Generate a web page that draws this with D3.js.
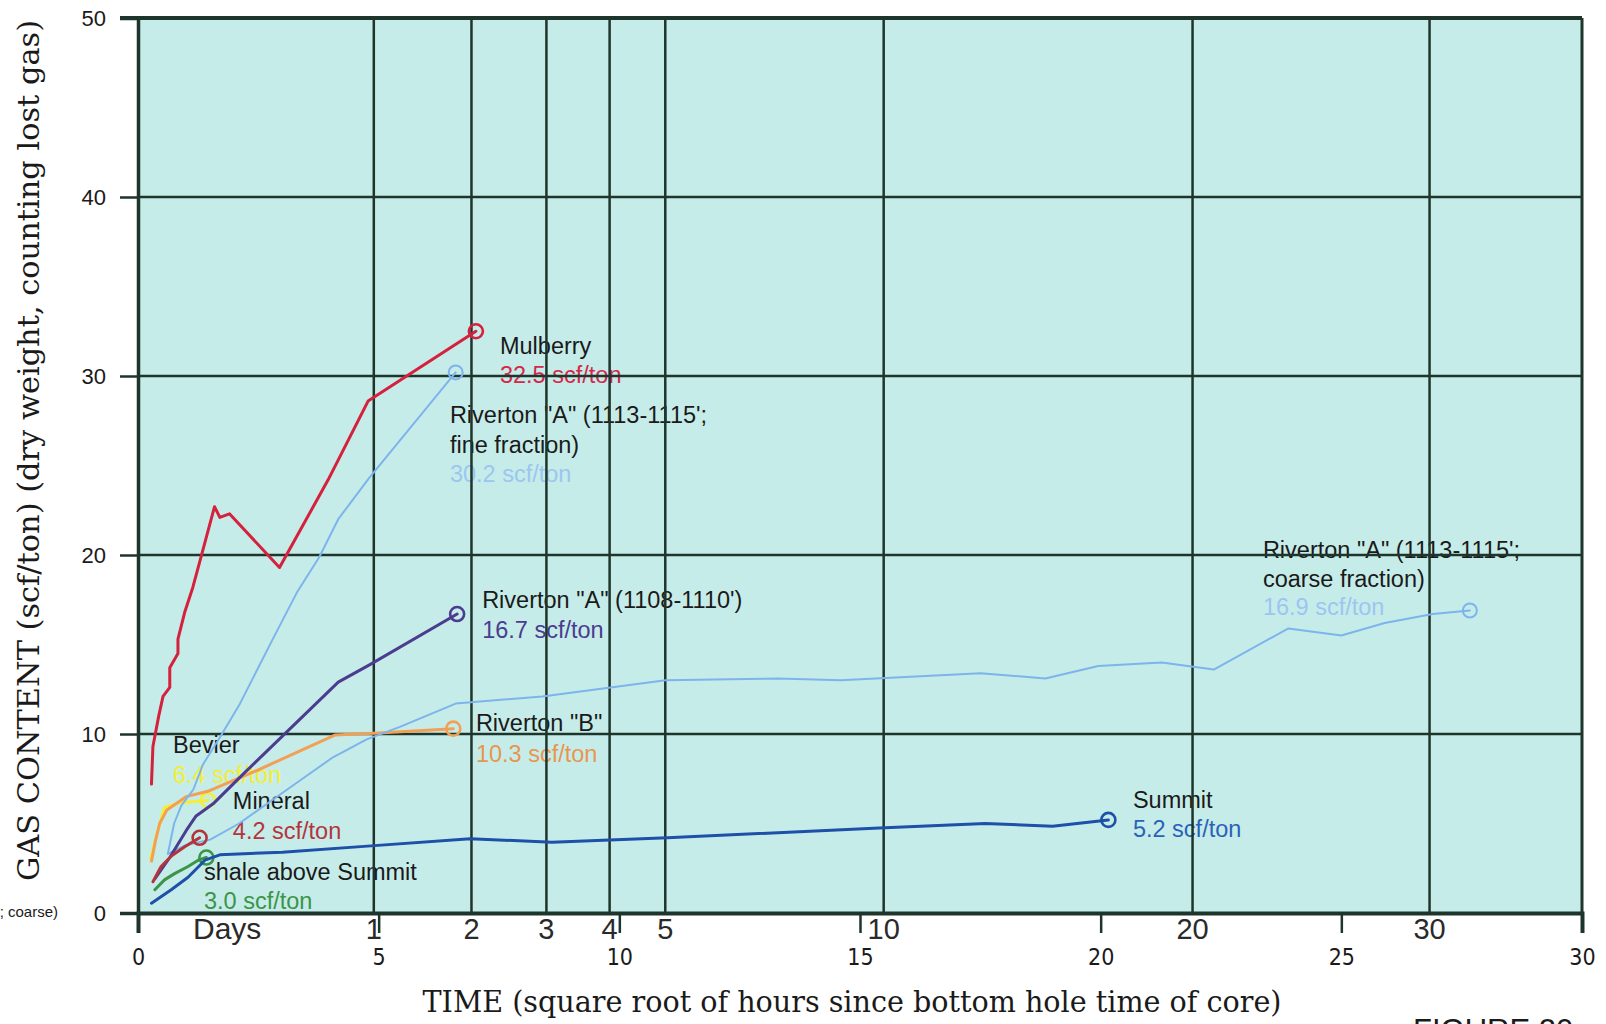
<!DOCTYPE html>
<html><head><meta charset="utf-8">
<script src="https://cdn.jsdelivr.net/npm/d3@7"></script>
<style>body{margin:0;background:#fff} svg{display:block}</style>
</head><body>
<svg id="c" width="1606" height="1024"></svg>
<script>
// ---- data ----
const yTicks = [0, 10, 20, 30, 40, 50];
const xTicks = [0, 5, 10, 15, 20, 25, 30];
const dayTicks = [1, 2, 3, 4, 5, 10, 20, 30];   // days; placed at sqrt(hours)

const mulberry = [[0.28,7.2],[0.31,9.3],[0.43,11.0],[0.52,12.1],[0.66,12.6],[0.66,13.7],[0.83,14.5],[0.83,15.3],[0.97,16.8],[1.14,18.2],[1.31,19.9],[1.59,22.7],[1.70,22.1],[1.90,22.3],[2.94,19.3],[3.95,24.2],[4.78,28.6],[7.02,32.5]];
const rivAfine = [[0.62,3.3],[0.75,5.0],[0.9,6.0],[1.15,6.9],[1.35,8.3],[1.7,9.8],[2.1,11.6],[2.8,15.3],[3.3,17.9],[3.77,19.9],[4.16,22.0],[4.8,24.3],[6.6,30.2]];
const rivAcoarse = [[0.62,3.3],[1.0,3.8],[1.5,4.1],[2.1,5.0],[3.1,6.9],[4.05,8.7],[4.75,9.7],[5.44,10.4],[6.6,11.7],[8.4,12.1],[10.96,13.0],[13.3,13.1],[14.6,13.0],[17.5,13.4],[18.85,13.1],[19.95,13.8],[21.27,14.0],[22.35,13.6],[23.9,15.9],[25.0,15.5],[25.9,16.2],[26.9,16.7],[27.67,16.9]];
const rivA1108 = [[0.35,1.9],[0.66,3.1],[1.0,4.6],[1.2,5.4],[1.56,6.1],[2.2,7.8],[2.99,9.85],[4.16,12.9],[4.8,13.85],[6.63,16.7]];
const rivB = [[0.28,2.9],[0.36,4.0],[0.45,5.0],[0.6,5.75],[1.0,6.5],[1.45,6.8],[2.5,8.0],[4.1,9.95],[5.0,10.05],[6.55,10.3]];
const bevier = [[0.26,3.0],[0.38,4.3],[0.55,5.9],[0.85,6.15],[1.45,6.3]];
const mineral = [[0.31,1.75],[0.48,2.6],[0.7,3.2],[0.97,3.7],[1.28,4.2]];
const shale = [[0.35,1.3],[0.55,1.85],[0.76,2.2],[1.04,2.6],[1.25,2.95],[1.42,3.1]];
const summit = [[0.28,0.55],[0.69,1.3],[1.04,2.0],[1.39,2.95],[1.7,3.25],[3.0,3.4],[4.84,3.75],[6.9,4.15],[8.6,3.95],[11.0,4.2],[15.4,4.75],[17.6,5.0],[19.0,4.85],[20.16,5.2]];

const seriesNames = ["Mulberry","Riverton A fine","Riverton A coarse","Riverton A 1108","Riverton B","Bevier","Mineral","shale above Summit","Summit"];
const seriesData = [mulberry, rivAfine, rivAcoarse, rivA1108, rivB, bevier, mineral, shale, summit];

// label texts: [name lines..., value line]
const labelTexts = [
  ["Mulberry", "32.5 scf/ton"],
  ["Riverton \"A\" (1113-1115';", "fine fraction)", "30.2 scf/ton"],
  ["Riverton \"A\" (1113-1115';", "coarse fraction)", "16.9 scf/ton"],
  ["Riverton \"A\" (1108-1110')", "16.7 scf/ton"],
  ["Riverton \"B\"", "10.3 scf/ton"],
  ["Bevier", "6.4 scf/ton"],
  ["Mineral", "4.2 scf/ton"],
  ["shale above Summit", "3.0 scf/ton"],
  ["Summit", "5.2 scf/ton"]
];

// ---- styles / layout ----
const lineColors  = ["#d4213d","#7db4ec","#7db4ec","#4b3c8f","#f2a055","#f4ee36","#b4343c","#3b9447","#1d50a8"];
const valueColors = ["#d4294a","#9cc6f0","#9cc6f0","#4b3c8f","#e8964f","#f4ee36","#b4343c","#3b9447","#2a62b8"];
const lineWidths  = [3, 2, 2, 3, 3, 3, 3, 3, 3];
const labelAnchor = [[7.52,31.23],[6.48,27.37],[23.37,19.83],[7.15,17.04],[7.02,10.17],[0.727,8.94],[1.97,5.81],[1.37,1.84],[20.67,5.87]];
const lineGap = [1.6, 1.65, 1.6, 1.68, 1.72, 1.68, 1.68, 1.62, 1.62];

const svg = d3.select("#c");
const x = d3.scaleLinear().domain([0, 30]).range([138, 1582]);
const y = d3.scaleLinear().domain([0, 50]).range([913, 18]);
const gridColor = "#1e352c";
const sans = "'Liberation Sans', Arial, Helvetica, sans-serif";
const serif = "'DejaVu Serif', 'Liberation Serif', serif";

svg.append("rect").attr("width",1606).attr("height",1024).attr("fill","#fff");
svg.append("rect").attr("x", x(0)).attr("y", y(50)).attr("width", x(30)-x(0)).attr("height", y(0)-y(50)).attr("fill", "#c6ece9");

// labels (under grid)
const lab = svg.append("g").attr("font-family", sans).attr("font-size", 23.5);
labelTexts.forEach((lines, i) => {
  const [ax, ay] = labelAnchor[i];
  lines.forEach((t, j) => {
    const isVal = j === lines.length - 1;
    lab.append("text")
      .attr("x", x(ax))
      .attr("y", y(ay - j * lineGap[i]))
      .attr("fill", isVal ? valueColors[i] : "#1a1a1a")
      .text(t);
  });
});

// grid
const grid = svg.append("g").attr("stroke", gridColor).attr("stroke-width", 2.5);
grid.selectAll("line.h").data(yTicks.filter(v => v > 0 && v < 50)).enter().append("line")
  .attr("x1", x(0)).attr("x2", x(30)).attr("y1", d => y(d)).attr("y2", d => y(d));
grid.selectAll("line.v").data(dayTicks).enter().append("line")
  .attr("x1", d => x(Math.sqrt(24*d))).attr("x2", d => x(Math.sqrt(24*d)))
  .attr("y1", y(50)).attr("y2", y(0));

// series
const line = d3.line().x(d => x(d[0])).y(d => y(d[1]));
const order = [5, 4, 2, 1, 3, 6, 7, 8, 0];
order.forEach(i => {
  svg.append("path").datum(seriesData[i]).attr("d", line)
    .attr("fill","none").attr("stroke", lineColors[i]).attr("stroke-width", lineWidths[i])
    .attr("stroke-linejoin","round").attr("stroke-linecap","round");
  const last = seriesData[i][seriesData[i].length - 1];
  svg.append("circle").attr("cx", x(last[0])).attr("cy", y(last[1])).attr("r", 7)
    .attr("fill","none").attr("stroke", lineColors[i]).attr("stroke-width", i===1||i===2 ? 2 : 2.6);
});

// frame
svg.append("line").attr("x1", x(0)-18).attr("x2", x(30)).attr("y1", y(50)).attr("y2", y(50)).attr("stroke", gridColor).attr("stroke-width", 4);
svg.append("line").attr("x1", x(30)).attr("x2", x(30)).attr("y1", y(50)).attr("y2", y(0)).attr("stroke", gridColor).attr("stroke-width", 3);

// left axis
const yAxis = svg.append("g").attr("transform", `translate(${x(0)},0)`)
  .call(d3.axisLeft(y).tickValues(yTicks).tickSize(18).tickPadding(14).tickFormat(d3.format("d")));
yAxis.select(".domain").attr("stroke", gridColor).attr("stroke-width", 3.5);
yAxis.selectAll(".tick line").attr("stroke", gridColor).attr("stroke-width", 2.5);
yAxis.selectAll(".tick text").attr("font-family", sans).attr("font-size", 22).attr("fill", "#1a1a1a");

// bottom axis
const xAxis = svg.append("g").attr("transform", `translate(0,${y(0)})`)
  .call(d3.axisBottom(x).tickValues(xTicks).tickSize(20).tickPadding(16).tickFormat(d3.format("d")));
xAxis.select(".domain").attr("stroke", gridColor).attr("stroke-width", 4);
xAxis.selectAll(".tick line").attr("stroke", gridColor).attr("stroke-width", 2.5);
xAxis.selectAll(".tick text").attr("font-family", "'Liberation Sans Narrow', 'DejaVu Sans Condensed', "+sans)
  .attr("font-size", 23).attr("fill", "#1a1a1a");

// day labels
const dl = svg.append("g").attr("font-family", sans).attr("font-size", 29).attr("fill", "#2a2a2a").attr("text-anchor","middle");
dl.selectAll("text").data(dayTicks).enter().append("text")
  .attr("x", d => x(Math.sqrt(24*d))).attr("y", 939).text(d => d);
dl.append("text").attr("x", 193).attr("y", 939).attr("text-anchor","start").attr("font-size", 30).text("Days");

// axis titles
svg.append("text").attr("transform", "translate(39,450.5) rotate(-90)")
  .attr("text-anchor","middle").attr("font-family", serif).attr("font-size", 30).attr("fill","#1a1a1a")
  .attr("textLength", 861).attr("lengthAdjust","spacingAndGlyphs")
  .text("GAS CONTENT (scf/ton) (dry weight, counting lost gas)");
svg.append("text").attr("x", 852).attr("y", 1012)
  .attr("text-anchor","middle").attr("font-family", serif).attr("font-size", 30).attr("fill","#1a1a1a")
  .attr("textLength", 859).attr("lengthAdjust","spacingAndGlyphs")
  .text("TIME (square root of hours since bottom hole time of core)");

// clipped fragments at edges (cut off in the reference as well)
svg.append("text").attr("x", 58).attr("y", 917).attr("text-anchor","end")
  .attr("font-family", sans).attr("font-size", 15).attr("fill","#1a1a1a")
  .text("Riverton \"A\" (1113-1115'; coarse)");
svg.append("text").attr("x", 1413).attr("y", 1041)
  .attr("font-family", sans).attr("font-size", 31).attr("fill","#1a1a1a").text("FIGURE 20");
</script>
</body></html>
